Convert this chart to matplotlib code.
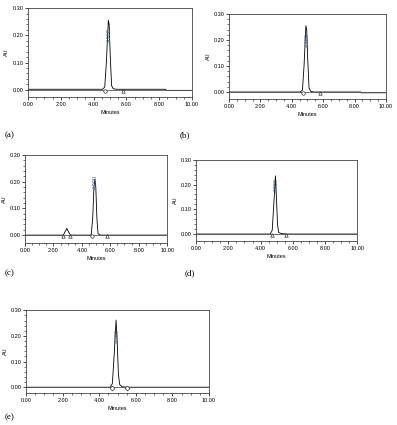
import matplotlib.pyplot as plt
import numpy as np

plt.rcParams['font.family'] = ['Liberation Sans', 'DejaVu Sans']

# chromatogram traces (time in minutes, AU)
t_a = [0.0, 4.55, 4.68, 4.78, 4.90, 4.95, 5.02, 5.10, 5.20, 5.40, 8.40, 8.42, 10.0]
au_a = [0.002, 0.002, 0.010, 0.100, 0.255, 0.240, 0.120, 0.015, 0.004, 0.002, 0.002, -0.002, -0.002]

t_b = [0.0, 4.55, 4.68, 4.78, 4.90, 4.95, 5.02, 5.10, 5.20, 5.40, 8.40, 8.42, 10.0]
au_b = [0.0, 0.0, 0.008, 0.100, 0.255, 0.240, 0.120, 0.015, 0.003, 0.0, 0.0, -0.003, -0.003]

t_c = [0.0, 2.70, 2.85, 2.95, 3.05, 3.20, 4.65, 4.76, 4.85, 4.92, 4.98, 5.06, 5.14, 5.30, 10.0]
au_c = [0.0, 0.0, 0.016, 0.025, 0.013, 0.0, 0.0, 0.060, 0.180, 0.210, 0.180, 0.060, 0.005, 0.0, 0.0]

t_d = [0.0, 4.60, 4.72, 4.82, 4.92, 4.98, 5.05, 5.12, 5.30, 5.60, 10.0]
au_d = [0.0, 0.0, 0.015, 0.120, 0.235, 0.150, 0.040, 0.006, 0.002, 0.0, 0.0]

t_e = [0.0, 4.60, 4.72, 4.82, 4.92, 4.98, 5.05, 5.12, 5.25, 5.50, 10.0]
au_e = [0.0, 0.0, 0.015, 0.130, 0.262, 0.180, 0.050, 0.010, 0.002, 0.0, 0.0]

# integration marks: (time, marker)
marks_a = [(4.70, 'o'), (5.80, '^')]
marks_b = [(4.70, 'o'), (5.80, '^')]
marks_c = [(2.70, '^'), (3.20, '^'), (4.70, 'o'), (5.80, '^')]
marks_d = [(4.70, '^'), (5.60, '^')]
marks_e = [(4.70, 'D'), (5.50, 'D')]

panel_labels = ['(a)', '(b)', '(c)', '(d)', '(e)']
peak_label = '4.900'

x_ticks = [0, 2, 4, 6, 8, 10]
x_ticklabels = ['0.00', '2.00', '4.00', '6.00', '8.00', '10.00']
y_ticks = [0.0, 0.1, 0.2, 0.3]
y_ticklabels = ['0.00', '0.10', '0.20', '0.30']

fig = plt.figure(figsize=(3.97, 4.25), dpi=100)

panels = [
    ([0.0705, 0.772, 0.413, 0.209], -0.026, t_a, au_a, marks_a),
    ([0.577, 0.767, 0.395, 0.200], -0.027, t_b, au_b, marks_b),
    ([0.063, 0.428, 0.358, 0.207], -0.030, t_c, au_c, marks_c),
    ([0.494, 0.433, 0.406, 0.191], -0.028, t_d, au_d, marks_d),
    ([0.0655, 0.075, 0.461, 0.195], -0.023, t_e, au_e, marks_e),
]

for rect, ybot, t, au, marks in panels:
    ax = fig.add_axes(rect)
    ax.plot(t, au, color='black', lw=0.6)
    ax.axhline(0, color='#555555', lw=0.6)
    for xm, m in marks:
        ax.plot(xm, -0.004, marker=m, ms=2.5, mfc='white', mec='#333333', mew=0.5)
    ax.text(4.98, 0.20, peak_label, rotation=90, fontsize=4, color='#3b5f8c',
            ha='center', va='center')
    ax.set_xlim(0, 10)
    ax.set_ylim(ybot, 0.30)
    ax.set_xticks(x_ticks)
    ax.set_xticklabels(x_ticklabels)
    ax.set_yticks(y_ticks)
    ax.set_yticklabels(y_ticklabels)
    ax.set_xticks(np.arange(0, 10.01, 0.5), minor=True)
    ax.set_yticks(np.arange(0, 0.301, 0.02), minor=True)
    ax.tick_params(labelsize=4, length=2, width=0.5, pad=1.5)
    ax.tick_params(which='minor', length=1.2, width=0.4)
    ax.set_xlabel('Minutes', fontsize=4, labelpad=2)
    ax.set_ylabel('AU', fontsize=4, labelpad=2)
    for s in ax.spines.values():
        s.set_linewidth(0.6)
        s.set_color('#444444')

label_pos = [(5, 135), (180, 135), (5, 273), (185, 273), (5, 417)]
for lab, (px, py) in zip(panel_labels, label_pos):
    fig.text(px / 397, 1 - py / 425, lab, fontsize=6.5, family='Liberation Serif',
             ha='left', va='center')

fig.savefig('out.png', dpi=100)
